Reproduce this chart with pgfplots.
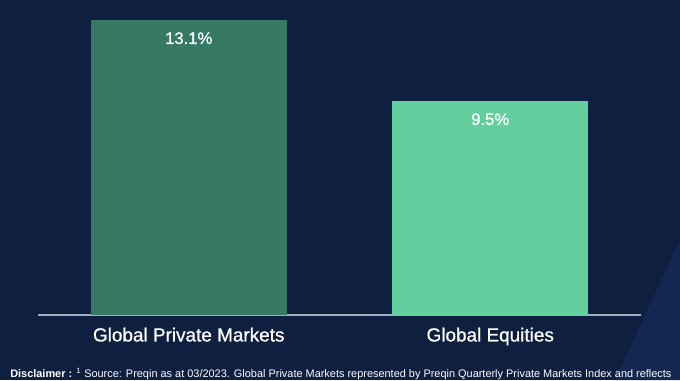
\documentclass[border=0pt]{standalone}
\usepackage{pgfplots}
\pgfplotsset{compat=1.18}
\usepackage{fontspec}
\setmainfont{Liberation Sans}
\newfontfamily\medfont[FakeBold=0.8]{Liberation Sans}
\definecolor{bg}{HTML}{0E1F40}
\definecolor{bgtwo}{HTML}{132750}
\definecolor{barone}{HTML}{367A66}
\definecolor{bartwo}{HTML}{63CF9F}
\definecolor{axisline}{HTML}{A3ADBD}
\begin{document}
\begin{tikzpicture}[x=0.75pt,y=0.75pt]
\clip (0,0) rectangle (680,380);
\fill[bg] (0,0) rectangle (680,380);
\fill[bgtwo] (615,0) -- (680,0) -- (680,140) -- cycle;
\begin{axis}[
  at={(28.5pt,48.75pt)}, anchor=south west,
  scale only axis, width=452.25pt, height=236.25pt,
  xmin=-0.5, xmax=1.5, ymin=0, ymax=14,
  hide y axis,
  axis x line*=bottom,
  x axis line style={-, draw=axisline, line width=0.8pt},
  xtick={0,1},
  xticklabels={Global Private Markets, Global Equities},
  major tick length=0pt,
  /pgf/number format/assume math mode=true,
  tick label style={white, font=\medfont\fontsize{14.2}{16}\selectfont},
  xticklabel style={yshift=-6pt},
  ybar, bar width=0.65, bar shift=0pt,
  nodes near coords={\pgfmathprintnumber[fixed,fixed zerofill,precision=1,assume math mode=true]{\pgfplotspointmeta}\%},
  every node near coord/.style={anchor=north, white, font=\medfont\fontsize{12.5}{15}\selectfont, yshift=-5.5pt},
  clip=false,
]
\addplot[fill=barone, draw=none] coordinates {(0,13.1)};
\addplot[fill=bartwo, draw=none] coordinates {(1,9.5)};
\end{axis}
\node[anchor=base west, inner sep=0pt, white, font=\fontsize{8.2}{9}\selectfont] at (10,2.5)
  {\textbf{Disclaimer :} \textsuperscript{1} Source: Preqin as at 03/2023. Global Private Markets represented by Preqin Quarterly Private Markets Index and reflects};
\end{tikzpicture}
\end{document}
